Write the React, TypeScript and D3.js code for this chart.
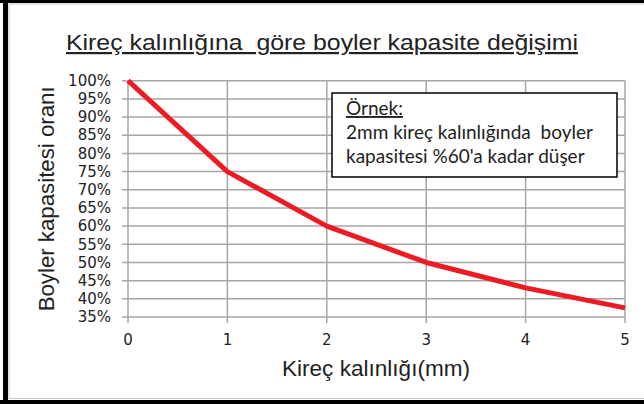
import React from 'react';
import * as d3 from 'd3';

// kireç kalınlığı (mm) ve boyler kapasitesi (%)
const thickness = [0, 1, 2, 3, 4, 5];
const capacity = [100, 75, 60, 50, 43, 37.5];
const yTicks = [100, 95, 90, 85, 80, 75, 70, 65, 60, 55, 50, 45, 40, 35];
const xTicks = [0, 1, 2, 3, 4, 5];

const title = 'Kireç kalınlığına  göre boyler kapasite değişimi';
const xTitle = 'Kireç kalınlığı(mm)';
const yTitle = 'Boyler kapasitesi oranı';
const noteHead = 'Örnek:';
const noteLines = ['2mm kireç kalınlığında  boyler', "kapasitesi %60'a kadar düşer"];

export default function App() {
  const W = 644, H = 404;
  const margin = { top: 80.7, right: 19, bottom: 87, left: 128 };

  const x = d3.scaleLinear().domain([0, 5]).range([margin.left, W - margin.right]);
  const y = d3.scaleLinear().domain([35, 100]).range([H - margin.bottom, margin.top]);

  const pts = thickness.map((t, i) => [t, capacity[i]] as [number, number]);
  const lineGen = d3.line<[number, number]>()
    .x(d => x(d[0]))
    .y(d => y(d[1]));

  const grid = '#a6a6a6';
  const txt = '#222';

  return (
    <svg width={W} height={H} style={{ position: 'absolute', left: 0, top: 0, background: '#fff' }}>
      {/* çerçeve */}
      <rect x={0} y={0} width={W} height={3} fill="#000" />
      <rect x={3} y={0} width={5} height={H} fill="#000" />
      <rect x={0} y={400} width={W} height={4} fill="#000" />
      <line x1={9} x2={W} y1={4} y2={4} stroke="#c8c8c8" />
      <line x1={9} x2={W} y1={398.5} y2={398.5} stroke="#c8c8c8" />
      <line x1={9} x2={9} y1={4} y2={399} stroke="#c8c8c8" />

      {/* başlık */}
      <text x={322} y={50} textAnchor="middle" fontFamily="Liberation Sans, Arial" fontSize={22}
        fill={txt} textDecoration="underline" textLength={512} lengthAdjust="spacingAndGlyphs"
        style={{ whiteSpace: 'pre' }}>{title}</text>

      {/* yatay ızgara */}
      {yTicks.map(t => (
        <g key={'y' + t}>
          <line x1={x(0) - 6} x2={x(5)} y1={y(t)} y2={y(t)} stroke={grid} strokeWidth={1.5} />
          <text x={111} y={y(t)} dy="0.35em" textAnchor="end" fontFamily="DejaVu Sans" fontSize={15}
            fill={txt}>{t + '%'}</text>
        </g>
      ))}
      {/* dikey ızgara */}
      {xTicks.map(t => (
        <g key={'x' + t}>
          <line x1={x(t)} x2={x(t)} y1={y(100)} y2={y(35) + 6} stroke={grid} strokeWidth={1.5} />
          <text x={x(t)} y={340} dy="0.35em" textAnchor="middle" fontFamily="DejaVu Sans" fontSize={15}
            fill={txt}>{t}</text>
        </g>
      ))}

      {/* eksen başlıkları */}
      <text x={376} y={376} textAnchor="middle" fontFamily="Liberation Sans, Arial" fontSize={22}
        fill={txt} textLength={188} lengthAdjust="spacingAndGlyphs">{xTitle}</text>
      <text transform={`translate(54, ${(y(100) + y(35)) / 2}) rotate(-90)`} textAnchor="middle"
        fontFamily="Liberation Sans, Arial" fontSize={22} fill={txt}
        textLength={225} lengthAdjust="spacingAndGlyphs">{yTitle}</text>

      {/* eğri */}
      <path d={lineGen(pts) || ''} fill="none" stroke="#ed1c24" strokeWidth={5} strokeLinejoin="round" />

      {/* not kutusu */}
      <rect x={332} y={93} width={285} height={84} fill="#fff" stroke="#000" strokeWidth={1.5} />
      <text x={346} y={115} fontFamily="Lato" fontSize={19} fill={txt} textDecoration="underline">{noteHead}</text>
      {noteLines.map((l, i) => (
        <text key={l} x={346} y={139 + i * 24} fontFamily="Lato" fontSize={19} fill={txt}
          style={{ whiteSpace: 'pre' }}>{l}</text>
      ))}
    </svg>
  );
}
